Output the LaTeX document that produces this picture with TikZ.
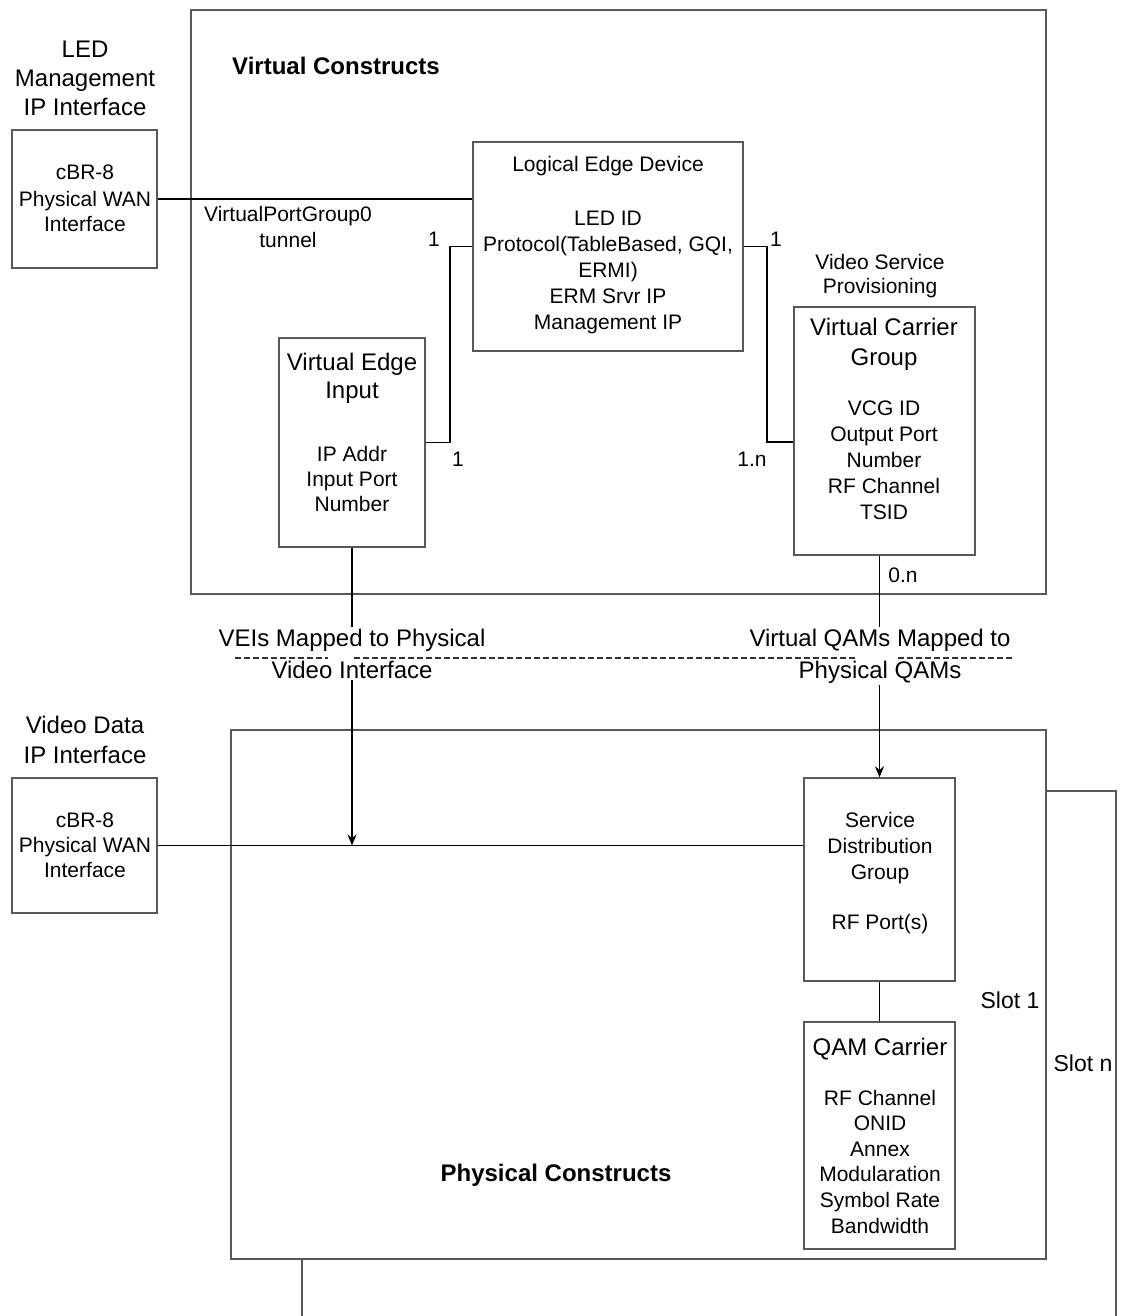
\documentclass[tikz,border=0pt]{standalone}
\usepackage{fontspec}
\setmainfont{Liberation Sans}
\usetikzlibrary{arrows.meta, backgrounds, fit}
\tikzset{
  frame box/.style={
    draw=black!65,
    line width=0.7pt,
    inner sep=0pt,
  },
  box text/.style={
    align=center,
    anchor=base,
    inner sep=0pt,
    font=\fontsize{10.5}{13}\selectfont,
  },
  big text/.style={
    box text,
    font=\fontsize{12}{14}\selectfont,
  },
  title text/.style={
    box text,
    font=\fontsize{12}{14}\selectfont\bfseries,
  },
  map text/.style={
    box text,
    fill=white,
    inner sep=1pt,
    font=\fontsize{12}{16}\selectfont,
  },
  link/.style={line width=0.9pt, black},
  map arrow/.style={link, -{Stealth[length=5.5pt, width=4.5pt]}},
  map line/.style={black!80, line width=0.7pt, dash pattern=on 3pt off 1.5pt},
}
\begin{document}
\begin{tikzpicture}[x=0.5pt, y=-0.5pt]
      \useasboundingbox (0,0) rectangle (1121,1316);

      % boxes
      \node[frame box, fit={(191,10) (1046,594)}] (vc) {};
      \node[frame box, fit={(12,130) (157,268)}] (wanA) {};
      \node[frame box, fit={(473,142) (743,351)}] (led) {};
      \node[frame box, fit={(279,338) (425,547)}] (vei) {};
      \node[frame box, fit={(794,307) (975,555)}] (vcg) {};
      \node[frame box, fit={(12,778) (157,913)}] (wanB) {};
      \node[frame box, fill=white, fit={(231,730) (1046,1259)}] (phys) {};
      \node[frame box, fit={(804,778) (955,981)}] (sdg) {};
      \node[frame box, fit={(804,1022) (955,1249)}] (qam) {};
      \begin{scope}[on background layer]
        \node[frame box, fit={(302,791) (1116,1340)}] (slotn) {};
      \end{scope}

      % connectors
      \draw[link] (wanA.east) -- (wanA.east -| led.west);
      \draw[link] (led.west) -- ++(-22,0) |- (vei.east);
      \draw[link] (led.east) -- ++(23,0) |- ([yshift=-5.5pt]vcg.west);
      \draw[map arrow] (sdg.north |- vcg.south) -- (sdg.north);
      \draw[link] (wanB.east) -- (wanB.east -| sdg.west);
      \draw[map arrow] (vei.south) -- (vei.south |- wanB.east);
      \draw[link] (sdg.south) -- (qam.north);

      % texts (multi-line ones placed at their last baseline)
      \node[title text] (vcTitle) at (336,75) {Virtual Constructs};
      \node[big text, font=\fontsize{12}{14.5}\selectfont] (ledLabel) at (85,116) {LED\\Management\\IP Interface};
      \node[box text] (wanAText) at (85,232) {cBR-8\\Physical WAN\\Interface};
      \node[box text] (tunnel) at (288,248) {VirtualPortGroup0\\tunnel};
      \node[box text] (ledText) at (608,329) {Logical Edge Device\\[14pt] LED ID\\Protocol(TableBased, GQI,\\ERMI)\\ERM Srvr IP\\Management IP};
      \node[big text] (veiTitle) at (352,398) {Virtual Edge\\Input};
      \node[box text, font=\fontsize{10.5}{12.5}\selectfont] (veiText) at (352,511) {IP Addr\\Input Port\\Number};
      \node[box text, font=\fontsize{10.5}{12}\selectfont] (vsp) at (880,293) {Video Service\\Provisioning};
      \node[big text, font=\fontsize{12}{15}\selectfont] (vcgTitle) at (884,365) {Virtual Carrier\\Group};
      \node[box text] (vcgText) at (884,519) {VCG ID\\Output Port\\Number\\RF Channel\\TSID};
      \node[box text] (nLedVei) at (434,247) {1};
      \node[box text] (nVei) at (458,466) {1};
      \node[box text] (nLedVcg) at (776,247) {1};
      \node[box text] (nVcg) at (752,466) {1.n};
      \node[box text] (nSdg) at (903,582) {0.n};
      \node[map text] (mapVei) at (352,678) {VEIs Mapped to Physical\\Video Interface};
      \node[map text] (mapQam) at (880,678) {Virtual QAMs Mapped to\\Physical QAMs};
      \node[big text, font=\fontsize{12}{15}\selectfont] (vdLabel) at (85,763) {Video Data\\IP Interface};
      \node[box text, font=\fontsize{10.5}{12.5}\selectfont] (wanBText) at (85,877) {cBR-8\\Physical WAN\\Interface};
      \node[box text] (sdgText) at (880,929) {Service\\Distribution\\Group\\[12pt] RF Port(s)};
      \node[big text] (qamTitle) at (880,1055) {QAM Carrier};
      \node[box text, font=\fontsize{10.5}{12.8}\selectfont] (qamText) at (880,1233) {RF Channel\\ONID\\Annex\\Modularation\\Symbol Rate\\Bandwidth};
      \node[box text, font=\fontsize{11.5}{14}\selectfont] (slot1) at (1010,1008) {Slot 1};
      \node[box text, font=\fontsize{11.5}{14}\selectfont] (slotN) at (1083,1071) {Slot n};
      \node[title text] (physTitle) at (556,1181) {Physical Constructs};

      % mapping boundary
      \coordinate (mapL) at (235,658);
      \coordinate (mapR) at (1012,658);
      \draw[map line] (mapL) -- (mapL -| 328,0);
      \draw[map line] (mapL -| 354,0) -- (mapL -| 858,0);
      \draw[map line] (mapL -| 898,0) -- (mapR);
    \end{tikzpicture}
\end{document}
